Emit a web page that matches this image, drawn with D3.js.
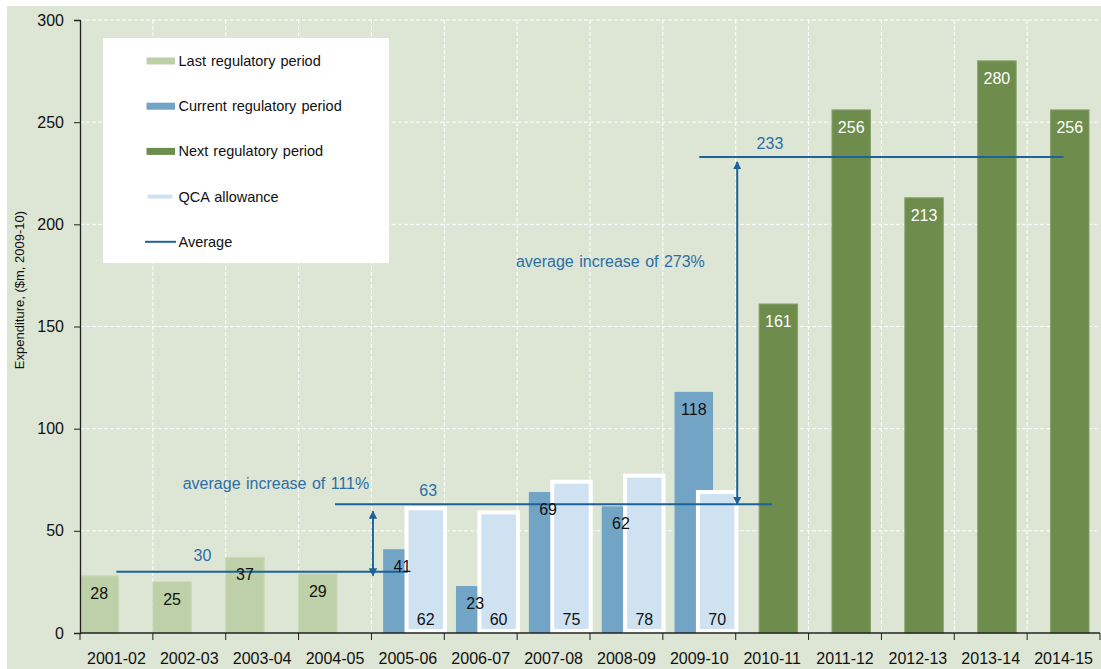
<!DOCTYPE html>
<html>
<head>
<meta charset="utf-8">
<script src="https://cdn.jsdelivr.net/npm/d3@7"></script>
<style>
  html, body { margin: 0; padding: 0; background: #ffffff; }
  svg { display: block; font-family: "Liberation Sans", Arial, sans-serif; }
</style>
</head>
<body>
<svg id="chart" width="1101" height="669"></svg>
<script>
// Financial years shown on the x axis
const categories = ["2001-02", "2002-03", "2003-04", "2004-05", "2005-06", "2006-07", "2007-08",
  "2008-09", "2009-10", "2010-11", "2011-12", "2012-13", "2013-14", "2014-15"];

// Expenditure by regulatory period ($m, 2009-10)
const lastPeriodYears = ["2001-02", "2002-03", "2003-04", "2004-05"];
const lastPeriodValues = [28, 25, 37, 29];

const currentPeriodYears = ["2005-06", "2006-07", "2007-08", "2008-09", "2009-10"];
const currentPeriodValues = [41, 23, 69, 62, 118];
const qcaAllowanceValues = [62, 60, 75, 78, 70];

const nextPeriodYears = ["2010-11", "2011-12", "2012-13", "2013-14", "2014-15"];
const nextPeriodValues = [161, 256, 213, 280, 256];

// Period averages and the years each one spans
const averageValues = [30, 63, 233];
const averageFrom = ["2001-02", "2004-05", "2009-10"];
const averageTo = ["2005-06", "2010-11", "2014-15"];

const yTicks = [0, 50, 100, 150, 200, 250, 300];

const increaseLabels = ["average increase of 111%", "average increase of 273%"];

const legendLabels = ["Last regulatory period", "Current  regulatory period", "Next regulatory period",
  "QCA allowance", "Average"];

// Colours
const C = {
  bg: "#dde5d4",
  last: "#bed0a8",
  current: "#72a4c6",
  next: "#6e8c4c",
  qca: "#cfe2f2",
  avg: "#1d6298",
  note: "#2b6fa6",
  axis: "#222222"
};

const svg = d3.select("#chart");
const W = 1101, H = 669;
const margin = { left: 80, right: 1, top: 20, bottom: 36 };
const plotRight = 1100, plotBottom = 633;

// Background panel
svg.append("rect").attr("x", 7).attr("y", 6).attr("width", W - 7).attr("height", H - 6).attr("fill", C.bg);

const x = d3.scaleBand().domain(categories).range([margin.left, plotRight]).padding(0);
const y = d3.scaleLinear().domain([0, 300]).range([plotBottom, margin.top]);
const bw = x.bandwidth();
const barW = bw * 0.528;
const step = bw * 0.1606;   // horizontal shift between overlapping series

// Grid lines
const grid = svg.append("g");
grid.selectAll("line.h").data(yTicks.filter(d => d > 0)).join("line")
  .attr("x1", margin.left).attr("x2", plotRight)
  .attr("y1", d => y(d)).attr("y2", d => y(d))
  .attr("stroke", "#ffffff").attr("stroke-width", 1).attr("stroke-dasharray", "4,2");
grid.selectAll("line.v").data(categories.slice(1)).join("line")
  .attr("x1", d => x(d)).attr("x2", d => x(d))
  .attr("y1", margin.top).attr("y2", plotBottom)
  .attr("stroke", "#ffffff").attr("stroke-width", 1).attr("stroke-dasharray", "4,2");

// Bars
function bars(years, values, slot, fill, cls) {
  return svg.append("g").selectAll("rect").data(years.map((c, i) => ({ c, v: values[i] }))).join("rect")
    .attr("class", cls)
    .attr("x", d => x(d.c) + slot * step)
    .attr("y", d => y(d.v))
    .attr("width", barW)
    .attr("height", d => y(0) - y(d.v))
    .attr("fill", fill);
}
bars(lastPeriodYears, lastPeriodValues, 0, C.last, "last").attr("stroke", "#c9d9b5").attr("stroke-width", 1);
bars(currentPeriodYears, currentPeriodValues, 1, C.current, "current");
bars(nextPeriodYears, nextPeriodValues, 2, C.next, "next").attr("stroke", "#86a266").attr("stroke-width", 1);
svg.append("g").selectAll("rect").data(currentPeriodYears.map((c, i) => ({ c, v: qcaAllowanceValues[i] }))).join("rect")
  .attr("x", d => x(d.c) + 3 * step)
  .attr("y", d => y(d.v) + 2)
  .attr("width", barW)
  .attr("height", d => y(0) - y(d.v) - 4)
  .attr("fill", C.qca)
  .attr("stroke", "#ffffff").attr("stroke-width", 4);

// Axes
const yAxis = d3.axisLeft(y).tickValues(yTicks).tickSize(6).tickPadding(10).tickFormat(d3.format("d"));
const gy = svg.append("g").attr("transform", `translate(${margin.left},0)`).call(yAxis);
gy.select(".domain").attr("stroke", C.axis).attr("stroke-width", 1.3);
gy.selectAll(".tick line").attr("stroke", C.axis);
gy.selectAll(".tick text").attr("font-size", 16).attr("fill", "#111").attr("font-family", "Liberation Sans, Arial, sans-serif");

const gx = svg.append("g").attr("transform", `translate(0,${plotBottom})`);
gx.append("line").attr("x1", margin.left).attr("x2", plotRight).attr("y1", 0).attr("y2", 0)
  .attr("stroke", C.axis).attr("stroke-width", 1.3);
gx.selectAll("line.t").data(categories.concat(["end"])).join("line")
  .attr("x1", (d, i) => margin.left + i * bw).attr("x2", (d, i) => margin.left + i * bw)
  .attr("y1", 0).attr("y2", 7).attr("stroke", C.axis);
gx.selectAll("text").data(categories).join("text")
  .attr("x", d => x(d) + bw / 2).attr("y", 31)
  .attr("text-anchor", "middle").attr("font-size", 16).attr("fill", "#111")
  .text(d => d);

svg.append("text")
  .attr("transform", `translate(24,290) rotate(-90)`)
  .attr("text-anchor", "middle").attr("font-size", 13).attr("fill", "#111")
  .text("Expenditure, ($m, 2009-10)");

// Average lines
const avgG = svg.append("g");
averageValues.forEach((v, i) => {
  avgG.append("line")
    .attr("x1", x(averageFrom[i]) + bw / 2).attr("x2", x(averageTo[i]) + bw / 2)
    .attr("y1", y(v)).attr("y2", y(v))
    .attr("stroke", C.avg).attr("stroke-width", 2);
});

// Double-headed arrows between successive averages
const defs = svg.append("defs");
defs.append("marker").attr("id", "head").attr("viewBox", "0 0 10 10")
  .attr("refX", 9).attr("refY", 5).attr("markerWidth", 4.2).attr("markerHeight", 4.2)
  .attr("orient", "auto-start-reverse").attr("markerUnits", "strokeWidth")
  .append("path").attr("d", "M0,0 L10,5 L0,10 Z").attr("fill", C.avg);

const arrows = [
  { at: "2005-06", from: averageValues[0], to: averageValues[1], dBot: 4, dTop: 7 },
  { at: "2010-11", from: averageValues[1], to: averageValues[2], dBot: 0, dTop: 5 }
];
arrows.forEach(a => {
  avgG.append("line")
    .attr("x1", x(a.at) + 1.5).attr("x2", x(a.at) + 1.5)
    .attr("y1", y(a.from) + a.dBot).attr("y2", y(a.to) + a.dTop)
    .attr("stroke", C.avg).attr("stroke-width", 2)
    .attr("marker-start", "url(#head)").attr("marker-end", "url(#head)");
});

// Average and increase annotations
const notes = [
  { t: String(averageValues[0]), cx: x("2002-03") + 0.68 * bw, cy: y(averageValues[0]) - 16 },
  { t: String(averageValues[1]), cx: x("2005-06") + 0.78 * bw, cy: y(averageValues[1]) - 14 },
  { t: String(averageValues[2]), cx: x("2010-11") + 0.47 * bw, cy: y(averageValues[2]) - 14 },
  { t: increaseLabels[0], cx: x("2003-04") + 0.69 * bw, cy: 483 },
  { t: increaseLabels[1], cx: x("2008-09") + 0.28 * bw, cy: 261 }
];
svg.append("g").selectAll("text").data(notes).join("text")
  .attr("x", d => d.cx).attr("y", d => d.cy).attr("dy", "0.35em")
  .attr("text-anchor", "middle").attr("font-size", 16).attr("word-spacing", 1).attr("fill", C.note)
  .text(d => d.t);

// Value labels
const labels = svg.append("g").attr("font-size", 16).attr("text-anchor", "middle");
function endLabels(years, values, slot, color) {
  labels.append("g").selectAll("text").data(years.map((c, i) => ({ c, v: values[i] }))).join("text")
    .attr("x", d => x(d.c) + slot * step + barW / 2)
    .attr("y", d => y(d.v) + 17.5).attr("dy", "0.35em")
    .attr("fill", color).text(d => d.v);
}
endLabels(lastPeriodYears, lastPeriodValues, 0, "#111");
endLabels(currentPeriodYears, currentPeriodValues, 1, "#111");
endLabels(nextPeriodYears, nextPeriodValues, 2, "#ffffff");
labels.append("g").selectAll("text").data(currentPeriodYears.map((c, i) => ({ c, v: qcaAllowanceValues[i] }))).join("text")
  .attr("x", d => x(d.c) + 3 * step + barW / 2)
  .attr("y", y(0) - 14).attr("dy", "0.35em")
  .attr("fill", "#111").text(d => d.v);

// Legend
const lg = svg.append("g");
lg.append("rect").attr("x", 103).attr("y", 38).attr("width", 286).attr("height", 225).attr("fill", "#ffffff");
const kinds = ["last", "current", "next", "qca", "avg"];
legendLabels.forEach((t, i) => {
  const cy = 61 + i * 45.2;
  const k = kinds[i];
  if (k === "qca") {
    lg.append("rect").attr("x", 147.5).attr("y", cy - 2).attr("width", 25).attr("height", 4).attr("fill", C.qca);
  } else if (k === "avg") {
    lg.append("line").attr("x1", 145).attr("x2", 176).attr("y1", cy).attr("y2", cy)
      .attr("stroke", C.avg).attr("stroke-width", 2);
  } else {
    lg.append("rect").attr("x", 146.5).attr("y", cy - 3.5).attr("width", 28.5).attr("height", 7).attr("fill", C[k]);
  }
  lg.append("text").attr("x", 178.5).attr("y", cy).attr("dy", "0.35em")
    .attr("font-size", 14.5).attr("word-spacing", 1).attr("fill", "#111").text(t);
});
</script>
</body>
</html>
